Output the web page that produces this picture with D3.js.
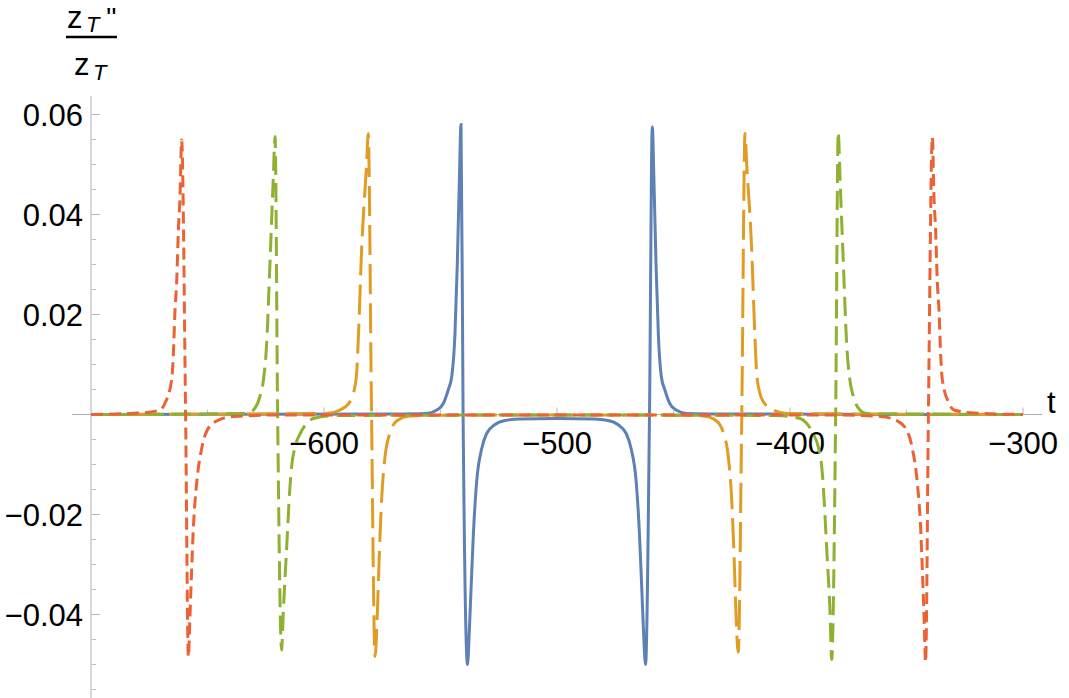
<!DOCTYPE html>
<html>
<head>
<meta charset="utf-8">
<script src="https://cdn.jsdelivr.net/npm/d3@7"></script>
<style>
  html, body { margin: 0; padding: 0; background: #fff; }
  svg { display: block; }
  text { font-family: "Liberation Sans", Arial, sans-serif; fill: #000; }
</style>
</head>
<body>
<svg id="chart" width="1069" height="698"></svg>
<script>
// t values and z_T''/z_T values, one list per curve
const blue = [
  [-700, 0], [-570, 0.0001], [-555.9, 0.0002], [-551.6, 0.0009], [-548.8, 0.0022],
  [-546.7, 0.0049], [-545.2, 0.0075], [-543.8, 0.016], [-542.8, 0.030], [-541.9, 0.047],
  [-541.2, 0.058], [-540.3, 0], [-538.4, -0.050], [-537.6, -0.043], [-536.9, -0.035],
  [-535.9, -0.024], [-534.5, -0.0135], [-532.3, -0.0068], [-530.2, -0.0038], [-526.6, -0.002],
  [-522.3, -0.0012], [-515.9, -0.0009], [-500, -0.0008], [-484.1, -0.0009], [-478.2, -0.0012],
  [-473.9, -0.002], [-470.3, -0.0038], [-468.2, -0.0068], [-466.0, -0.0135], [-464.6, -0.024],
  [-463.6, -0.035], [-462.9, -0.043], [-462.0, -0.050], [-460.3, 0], [-459.1, 0.0575],
  [-458.4, 0.047], [-457.5, 0.030], [-456.5, 0.016], [-455.2, 0.0075], [-453.7, 0.0049],
  [-451.6, 0.0022], [-448.8, 0.0009], [-444.5, 0.0002], [-430, 0.0001], [-300, 0]
];

const orange = [
  [-700, 0], [-598.9, 0.0002], [-593.1, 0.0009], [-588.8, 0.0026], [-587.4, 0.0042],
  [-586.0, 0.0082], [-585.3, 0.0149], [-583.8, 0.0336], [-581.7, 0.0502], [-581.0, 0.0562],
  [-579.6, 0], [-578.1, -0.0484], [-577.1, -0.0397], [-576.4, -0.0298], [-575.2, -0.0164],
  [-573.8, -0.0084], [-571.7, -0.0037], [-568.8, -0.0013], [-563.1, -0.0003], [-540, -0.0001],
  [-460, -0.0001], [-437.2, -0.0003], [-431.5, -0.0013], [-428.6, -0.0037], [-426.5, -0.0084],
  [-425.1, -0.0164], [-423.9, -0.0298], [-423.2, -0.0397], [-422.2, -0.0475], [-420.7, 0],
  [-419.3, 0.0562], [-418.6, 0.0502], [-416.5, 0.0336], [-415.0, 0.0149], [-414.3, 0.0082],
  [-412.9, 0.0042], [-411.5, 0.0026], [-407.2, 0.0009], [-401.4, 0.0002], [-300, 0]
];

const green = [
  [-700, 0], [-633.2, 0.0002], [-630.3, 0.0009], [-627.5, 0.0036], [-626.0, 0.0069],
  [-624.6, 0.0142], [-623.2, 0.0302], [-621.8, 0.0469], [-621.0, 0.0556], [-619.9, 0],
  [-618.2, -0.0471], [-617.5, -0.0398], [-616.0, -0.0264], [-614.6, -0.0144], [-613.9, -0.0104],
  [-612.4, -0.0064], [-610.3, -0.0039], [-607.5, -0.0018], [-604.6, -0.0008], [-595, -0.0002],
  [-500, -0.0001], [-405.7, -0.0002], [-395.7, -0.0008], [-392.8, -0.0018], [-390.0, -0.0039],
  [-387.9, -0.0064], [-386.4, -0.0104], [-385.7, -0.0144], [-384.3, -0.0264], [-382.8, -0.0398],
  [-382.1, -0.049], [-380.4, 0], [-379.3, 0.0565], [-378.5, 0.0469], [-377.1, 0.0302],
  [-375.7, 0.0142], [-374.3, 0.0069], [-372.8, 0.0036], [-370.0, 0.0009], [-367.1, 0.0002],
  [-300, 0]
];

const red = [
  [-700, 0], [-679, 0.0003], [-670.4, 0.0009], [-668.2, 0.0023], [-665.4, 0.0069],
  [-664.7, 0.0115], [-664.0, 0.0203], [-663.2, 0.0269], [-662.5, 0.0369], [-661.8, 0.0435],
  [-661.1, 0.0549], [-659.4, 0], [-658.2, -0.0485], [-657.5, -0.040], [-656.8, -0.031],
  [-656.1, -0.023], [-654.6, -0.0135], [-652.5, -0.0068], [-650.3, -0.0033], [-646.1, -0.0013],
  [-638.9, -0.0004], [-620, -0.0001], [-500, -0.0001], [-380, -0.0001], [-361.1, -0.0004],
  [-353.9, -0.0013], [-349.7, -0.0033], [-347.5, -0.0068], [-345.4, -0.0135], [-343.9, -0.023],
  [-343.2, -0.031], [-342.5, -0.040], [-341.8, -0.0495], [-340.6, 0], [-338.9, 0.0555],
  [-338.2, 0.0435], [-337.5, 0.0369], [-336.8, 0.0269], [-336.0, 0.0203], [-335.3, 0.0115],
  [-334.6, 0.0069], [-331.8, 0.0023], [-329.6, 0.0009], [-321, 0.0003], [-300, 0]
];

const xTickLabels = [-600, -500, -400, -300];
const xMinorTicks = [-650, -550, -450, -350];
const yTickLabels = [-0.04, -0.02, 0.02, 0.04, 0.06];
const yMinorTicks = [-0.055, -0.05, -0.045, -0.035, -0.03, -0.025, -0.015, -0.01, -0.005,
  0.005, 0.01, 0.015, 0.025, 0.03, 0.035, 0.045, 0.05, 0.055];

const curves = [
  { data: blue, color: "#5E81B5", dash: null },
  { data: orange, color: "#E19C24", dash: "30,9" },
  { data: green, color: "#8FB131", dash: "19,8" },
  { data: red, color: "#EB6235", dash: "12,6" },
];

const svg = d3.select("#chart");
const x = d3.scaleLinear().domain([-700, -300]).range([91, 1023]);
const y = d3.scaleLinear().domain([-0.06, 0.06]).range([714.5, 114.5]);

function fmt(v) {
  return (v < 0 ? "\u2212" : "") + Math.abs(v).toString();
}

function drawAxes() {
  const g = svg.append("g");
  const y0 = y(0);

  // horizontal axis
  g.append("line")
    .attr("x1", 72).attr("x2", 1042)
    .attr("y1", y0).attr("y2", y0)
    .attr("stroke", "#b0b0b0").attr("stroke-width", 1);

  g.selectAll(".xmajor").data(xTickLabels).enter().append("line")
    .attr("x1", (d) => x(d)).attr("x2", (d) => x(d))
    .attr("y1", y0).attr("y2", y0 - 7)
    .attr("stroke", "#b8b8b8");
  g.selectAll(".xminor").data(xMinorTicks).enter().append("line")
    .attr("x1", (d) => x(d)).attr("x2", (d) => x(d))
    .attr("y1", y0).attr("y2", y0 - 5)
    .attr("stroke", "#c4c4c4");

  g.selectAll(".xlab").data(xTickLabels).enter().append("text")
    .attr("x", (d) => x(d))
    .attr("y", 454)
    .attr("text-anchor", "middle")
    .attr("font-size", 31)
    .text(fmt);

  g.append("text")
    .attr("x", 1047).attr("y", 413)
    .attr("font-size", 31)
    .text("t");

  // vertical axis
  g.append("line")
    .attr("x1", 91).attr("x2", 91)
    .attr("y1", 96).attr("y2", 698)
    .attr("stroke", "#b0b0b0").attr("stroke-width", 1);

  g.selectAll(".ymajor").data(yTickLabels).enter().append("line")
    .attr("x1", 91).attr("x2", 100)
    .attr("y1", (d) => y(d)).attr("y2", (d) => y(d))
    .attr("stroke", "#b8b8b8");
  g.selectAll(".yminor").data(yMinorTicks).enter().append("line")
    .attr("x1", 91).attr("x2", 96)
    .attr("y1", (d) => y(d)).attr("y2", (d) => y(d))
    .attr("stroke", "#c4c4c4");

  g.selectAll(".ylab").data(yTickLabels).enter().append("text")
    .attr("x", 83)
    .attr("y", (d) => y(d) + 11)
    .attr("text-anchor", "end")
    .attr("font-size", 31)
    .text(fmt);
}

function drawTitle() {
  const g = svg.append("g");
  g.append("text").attr("x", 67).attr("y", 28).attr("font-size", 31).text("z");
  g.append("text").attr("x", 86).attr("y", 32).attr("font-size", 22)
    .attr("font-style", "italic").text("T");
  g.append("text").attr("x", 106).attr("y", 27).attr("font-size", 28).text("''");
  g.append("line")
    .attr("x1", 66).attr("x2", 117)
    .attr("y1", 37).attr("y2", 37)
    .attr("stroke", "#000").attr("stroke-width", 2.5);
  g.append("text").attr("x", 74).attr("y", 75).attr("font-size", 31).text("z");
  g.append("text").attr("x", 93).attr("y", 80).attr("font-size", 22)
    .attr("font-style", "italic").text("T");
}

function drawCurves() {
  const line = d3.line()
    .x((d) => x(d[0]))
    .y((d) => y(d[1]))
    .curve(d3.curveMonotoneX);

  curves.forEach((c) => {
    svg.append("path")
      .datum(c.data)
      .attr("fill", "none")
      .attr("stroke", c.color)
      .attr("stroke-width", 3)
      .attr("stroke-dasharray", c.dash)
      .attr("d", line);
  });
}

drawAxes();
drawCurves();
drawTitle();
</script>
</body>
</html>
